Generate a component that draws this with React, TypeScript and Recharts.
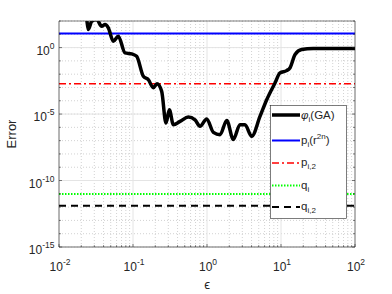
import React from "react"
import { LineChart, Line, XAxis, YAxis, CartesianGrid, Legend } from "recharts"

// phi_i(GA) error curve
const phiEps = [0.0211, 0.0237, 0.0249, 0.0277, 0.0323, 0.0377, 0.0419, 0.0464, 0.0542, 0.0633, 0.078, 0.096, 0.112, 0.138, 0.161, 0.188, 0.211, 0.244, 0.279, 0.31, 0.351, 0.432, 0.559, 0.689, 0.804, 0.99, 1.22, 1.5, 1.85, 2.27, 2.79, 3.26, 4.02, 5.2, 6.41, 8.3, 9.7, 11.9, 13.2, 15.5, 19, 27.3, 40, 100]
const phiErr = [730, 129, 22.7, 96, 129, 40.3, 54, 30.5, 2.99, 7.1, 0.4, 0.335, 0.221, 6.9e-3, 3.9e-3, 9.7e-4, 1.9e-3, 5.1e-4, 2.1e-6, 2.1e-5, 1.6e-6, 2.8e-6, 6.0e-6, 3.7e-6, 1.2e-6, 4.3e-6, 4.2e-7, 2.8e-7, 3.3e-6, 1.2e-7, 1.6e-6, 1.6e-6, 2.1e-7, 6.6e-6, 1.2e-4, 2.2e-3, 0.0124, 0.0185, 0.0295, 0.3, 0.71, 0.84, 0.85, 0.85]

// constant levels: p_i(r^2n), p_i,2, q_i, q_i,2
const levelErr = [11.4, 1.94e-3, 9.5e-12, 1.25e-12]
const epsRange = [0.01, 100]

const xMajor = [0.01, 0.1, 1, 10, 100]
const xMinor = [-2, -1, 0, 1].flatMap((e) => [2, 3, 4, 5, 6, 7, 8, 9].map((m) => m * 10 ** e))
const yMajor = [1e-15, 1e-10, 1e-5, 1]
const yAll = Array.from({ length: 18 }, (_, i) => 10 ** (i - 15))

const phiData = phiEps.map((x, i) => ({ eps: x, err: phiErr[i] }))
const levelData = levelErr.map((v) => epsRange.map((x) => ({ eps: x, err: v })))

const ink = "#262626"
const font = "'Liberation Sans', Arial, Helvetica, sans-serif"

const expOf = (v: number) => Math.round(Math.log10(v))
const isDecade = (v: number) => Math.abs(v / 10 ** expOf(v) - 1) < 1e-6

function Pow({ x, y, e, anchor }: { x: number; y: number; e: number; anchor: "middle" | "end" }) {
  return (
    <text x={x} y={y} textAnchor={anchor} fill={ink} fontSize={12} fontFamily={font}>
      <tspan>10</tspan>
      <tspan dy={-6} fontSize={8.5}>{e}</tspan>
    </text>
  )
}

function BottomTick(props: any) {
  const { x, y, payload } = props
  const dec = isDecade(payload.value)
  return (
    <g>
      <line x1={x} x2={x} y1={y} y2={y - (dec ? 3 : 1.8)} stroke={ink} strokeWidth={0.6} />
      {dec && <Pow x={x + 1} y={y + 24} e={expOf(payload.value)} anchor="middle" />}
    </g>
  )
}

function TopTick(props: any) {
  const { x, y, payload } = props
  const dec = isDecade(payload.value)
  return <line x1={x} x2={x} y1={y} y2={y + (dec ? 3 : 1.8)} stroke={ink} strokeWidth={0.6} />
}

function LeftTick(props: any) {
  const { x, y, payload } = props
  const e = expOf(payload.value)
  const major = e % 5 === 0
  return (
    <g>
      <line x1={x} x2={x + (major ? 3 : 1.8)} y1={y} y2={y} stroke={ink} strokeWidth={0.6} />
      {major && <Pow x={x - 4.5} y={y + 7.3} e={e} anchor="end" />}
    </g>
  )
}

function RightTick(props: any) {
  const { x, y, payload } = props
  const major = expOf(payload.value) % 5 === 0
  return <line x1={x} x2={x - (major ? 3 : 1.8)} y1={y} y2={y} stroke={ink} strokeWidth={0.6} />
}

function LegendBox() {
  const rows = [10, 35.5, 58, 80.5, 102]
  const t = { fontSize: 11.5, fill: ink, fontFamily: font }
  return (
    <svg width={78} height={114} style={{ display: "block" }}>
      <rect x={0.5} y={0.5} width={76} height={113} fill="#fff" stroke={ink} strokeWidth={0.6} />
      <line x1={2} x2={30} y1={rows[0]} y2={rows[0]} stroke="#000" strokeWidth={3.5} />
      <line x1={2} x2={30} y1={rows[1]} y2={rows[1]} stroke="#0000ff" strokeWidth={2} />
      <line x1={2} x2={30} y1={rows[2]} y2={rows[2]} stroke="#ff0000" strokeWidth={1.5} strokeDasharray="7 3 2 3" />
      <line x1={2} x2={30} y1={rows[3]} y2={rows[3]} stroke="#00ff00" strokeWidth={2} strokeDasharray="1.5 1.5" />
      <line x1={2} x2={30} y1={rows[4]} y2={rows[4]} stroke="#000" strokeWidth={2} strokeDasharray="7 5" />
      <text x={31} y={rows[0] + 4} {...t}>
        <tspan fontStyle="italic">φ</tspan>
        <tspan dy={3} fontSize={8}>i</tspan>
        <tspan dy={-3}>(GA)</tspan>
      </text>
      <text x={31} y={rows[1] + 3} {...t}>
        <tspan>p</tspan>
        <tspan dy={3} fontSize={8}>i</tspan>
        <tspan dy={-3}>(r</tspan>
        <tspan dy={-5} fontSize={8}>2n</tspan>
        <tspan dy={5}>)</tspan>
      </text>
      <text x={31} y={rows[2] + 3} {...t}>
        <tspan>p</tspan>
        <tspan dy={3} fontSize={8}>i,2</tspan>
      </text>
      <text x={31} y={rows[3] + 3} {...t}>
        <tspan>q</tspan>
        <tspan dy={3} fontSize={8}>i</tspan>
      </text>
      <text x={31} y={rows[4] + 3} {...t}>
        <tspan>q</tspan>
        <tspan dy={3} fontSize={8}>i,2</tspan>
      </text>
    </svg>
  )
}

// map values through the axis scale handed to the grid generators
const scaleAll = (axis: any, vals: number[]) => {
  const s = axis?.scale
  const f = typeof s === "function" ? s : s && typeof s.map === "function" ? (v: number) => s.map(v) : null
  return f ? vals.map((v) => f(v)).filter((p: any) => typeof p === "number" && isFinite(p)) : []
}

export default function App() {
  return (
    <div style={{ position: "absolute", left: 0, top: 0, width: 392, height: 294, background: "#fff", fontFamily: font }}>
      <LineChart width={392} height={294} margin={{ top: 20, right: 36, bottom: 0, left: 0 }}>
        <CartesianGrid
          stroke="#d2d2d2"
          strokeDasharray="1 2"
          horizontalCoordinatesGenerator={({ yAxis }: any) => scaleAll(yAxis, yAll)}
          verticalCoordinatesGenerator={({ xAxis }: any) => scaleAll(xAxis, xMinor)}
        />
        <CartesianGrid
          stroke="#e4e4e4"
          horizontalCoordinatesGenerator={({ yAxis }: any) => scaleAll(yAxis, yMajor)}
          verticalCoordinatesGenerator={({ xAxis }: any) => scaleAll(xAxis, xMajor)}
        />
        <XAxis
          dataKey="eps"
          type="number"
          scale="log"
          domain={epsRange}
          allowDataOverflow
          ticks={[...xMajor, ...xMinor]}
          interval={0}
          height={47}
          tickSize={0}
          tickMargin={0}
          tickLine={false}
          axisLine={{ stroke: ink, strokeWidth: 0.6 }}
          tick={<BottomTick />}
          label={{
            content: ({ viewBox }: any) => (
              <text x={viewBox.x + viewBox.width / 2} y={viewBox.y + 42} textAnchor="middle" fill={ink} fontSize={13} fontFamily={font}>
                ϵ
              </text>
            ),
          }}
        />
        <XAxis
          xAxisId="t"
          orientation="top"
          type="number"
          scale="log"
          domain={epsRange}
          allowDataOverflow
          ticks={[...xMajor, ...xMinor]}
          interval={0}
          height={1}
          tickSize={0}
          tickMargin={0}
          tickLine={false}
          axisLine={{ stroke: ink, strokeWidth: 0.6 }}
          tick={<TopTick />}
        />
        <YAxis
          type="number"
          scale="log"
          domain={[1e-15, 100]}
          allowDataOverflow
          ticks={yAll}
          interval={0}
          width={59}
          tickSize={0}
          tickMargin={0}
          tickLine={false}
          axisLine={{ stroke: ink, strokeWidth: 0.6 }}
          tick={<LeftTick />}
          label={{
            content: ({ viewBox }: any) => {
              const cx = viewBox.x + 11.5
              const cy = viewBox.y + viewBox.height / 2
              return (
                <text x={cx} y={cy} transform={`rotate(-90, ${cx}, ${cy})`} textAnchor="middle" dominantBaseline="central" fill={ink} fontSize={13} fontFamily={font}>
                  Error
                </text>
              )
            },
          }}
        />
        <YAxis
          yAxisId="r"
          orientation="right"
          type="number"
          scale="log"
          domain={[1e-15, 100]}
          allowDataOverflow
          ticks={yAll}
          interval={0}
          width={1}
          tickSize={0}
          tickMargin={0}
          tickLine={false}
          axisLine={{ stroke: ink, strokeWidth: 0.6 }}
          tick={<RightTick />}
        />
        <Line data={levelData[0]} dataKey="err" stroke="#0000ff" strokeWidth={2} dot={false} isAnimationActive={false} />
        <Line data={levelData[1]} dataKey="err" stroke="#ff0000" strokeWidth={1.5} strokeDasharray="7 3 2 3" dot={false} isAnimationActive={false} />
        <Line data={levelData[2]} dataKey="err" stroke="#00ff00" strokeWidth={2} strokeDasharray="1.5 1.5" dot={false} isAnimationActive={false} />
        <Line data={levelData[3]} dataKey="err" stroke="#000" strokeWidth={2} strokeDasharray="7 5" dot={false} isAnimationActive={false} />
        <Line data={phiData} dataKey="err" type="monotone" stroke="#000" strokeWidth={3.5} dot={false} isAnimationActive={false} />
        <Legend
          verticalAlign="middle"
          align="center"
          content={() => <LegendBox />}
          wrapperStyle={{ position: "absolute", left: 270, top: 105, width: 78, height: 114 }}
        />
      </LineChart>
    </div>
  )
}
